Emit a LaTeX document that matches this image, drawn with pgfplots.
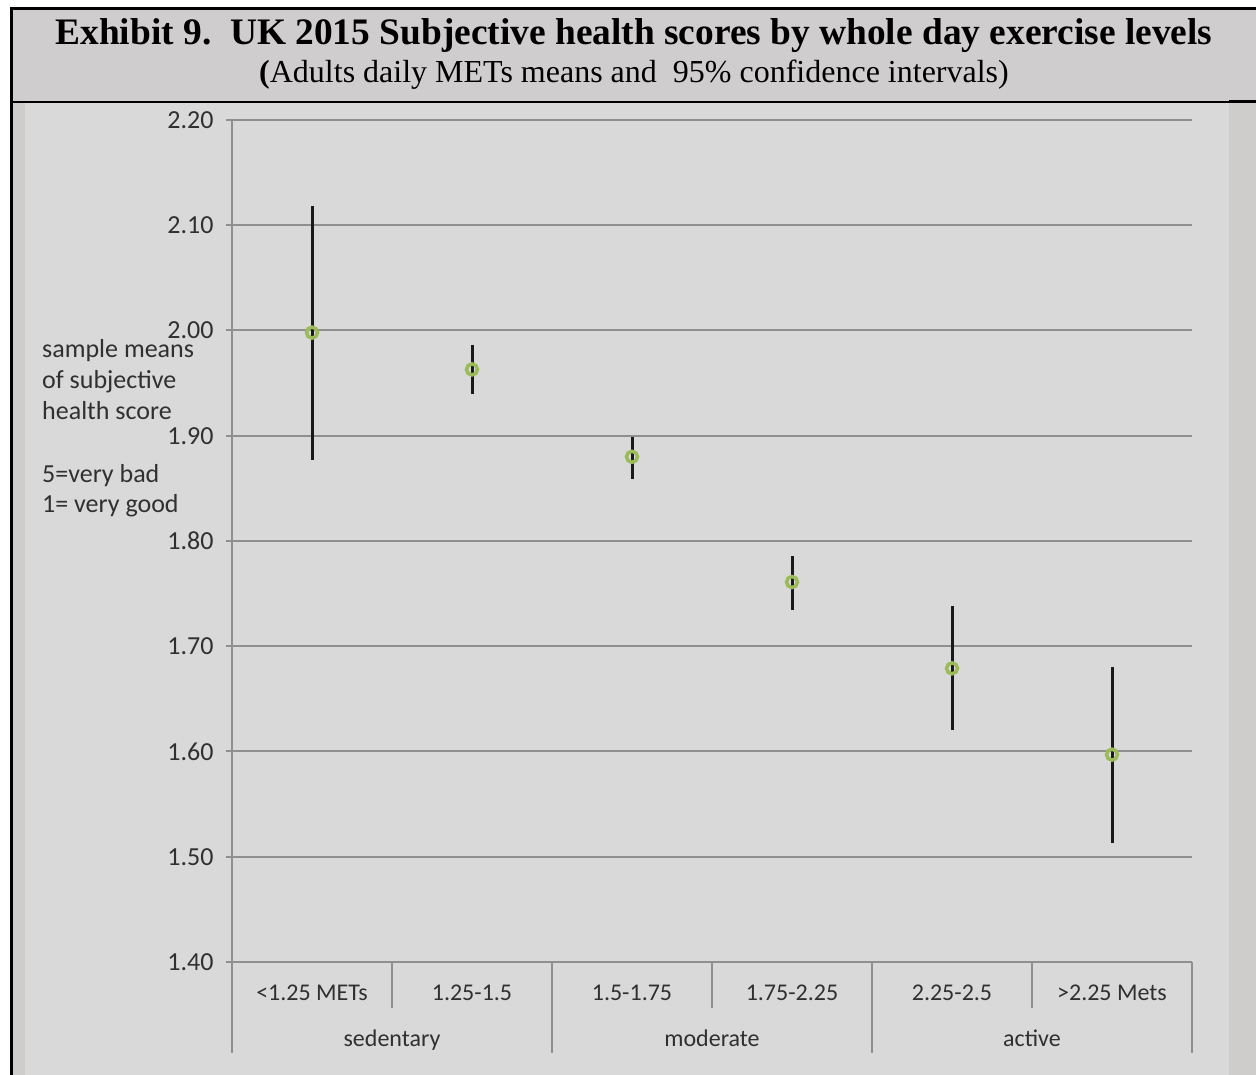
\documentclass[border=0pt]{standalone}
\usepackage{fontspec}
\setmainfont{Liberation Serif}
\newfontfamily\calibri{Carlito}
\usepackage{pgfplots}
\pgfplotsset{compat=1.18}
\usepackage{pgfplotstable}
\definecolor{titlegray}{HTML}{D0CDCE}
\definecolor{stripgray}{HTML}{CFCCCC}
\definecolor{plotbg}{HTML}{D9D9D9}
\definecolor{gridgray}{HTML}{8F8F8F}
\definecolor{mkgreen}{HTML}{9BBB59}
\definecolor{txt}{HTML}{303030}
\pgfplotstableread{
x y ep em
1 1.998 0.120 0.121
2 1.963 0.023 0.023
3 1.880 0.019 0.021
4 1.761 0.025 0.027
5 1.679 0.059 0.059
6 1.597 0.083 0.084
}\datatab
\begin{document}
\begin{tikzpicture}[x=1pt,y=1pt]
\useasboundingbox (0,0) rectangle (1256,1075);
\fill[white] (0,0) rectangle (1256,1075);
\fill[titlegray] (11,973) rectangle (1256,1066);
\fill[stripgray] (11,0) rectangle (1256,973);
\fill[plotbg] (25,0) rectangle (1229,973);
\draw[black,line width=3pt] (10,1066.5) -- (1256,1066.5);
\draw[black,line width=3pt] (11.5,0) -- (11.5,1068);
\draw[black,line width=2pt] (11,973) -- (1229,973);
\draw[black,line width=3pt] (1229,973) -- (1256,973);
\node[font=\fontsize{37.4}{44}\selectfont\bfseries] at (634,1039) {Exhibit 9.\ \ UK 2015 Subjective health scores by whole day exercise levels};
\node[font=\fontsize{32}{38}\selectfont] at (634,1000) {\textbf{(}Adults daily METs means and\ \ 95\% confidence intervals)};
\begin{scope}[font=\calibri\fontsize{26}{31}\selectfont, text=txt]
\node[anchor=base west,inner sep=0] at (42,717) {sample means};
\node[anchor=base west,inner sep=0] at (42,686) {of subjective};
\node[anchor=base west,inner sep=0] at (42,655) {health score};
\node[anchor=base west,inner sep=0] at (42,592) {5=very bad};
\node[anchor=base west,inner sep=0] at (42,562) {1= very good};
\end{scope}
\begin{axis}[
  at={(232pt,113pt)}, anchor=south west,
  width=960pt, height=842pt, scale only axis,
  xmin=0.5, xmax=6.5, ymin=1.4, ymax=2.2,
  axis x line=bottom, axis y line=left,
  axis line style={-, gridgray, line width=2pt},
  ytick={1.4,1.5,...,2.21},
  yticklabel style={/pgf/number format/fixed, /pgf/number format/fixed zerofill, /pgf/number format/precision=2, /pgf/number format/assume math mode=true, font=\calibri\fontsize{26}{30}\selectfont, text=txt, xshift=-9pt},
  ymajorgrids, grid style={gridgray, line width=2pt},
  tick align=outside,
  major tick length=6pt,
  ytick style={gridgray, line width=2pt},
  xtick={1,2,3,4,5,6},
  xticklabels={<1.25 METs,1.25-1.5,1.5-1.75,1.75-2.25,2.25-2.5,>2.25 Mets},
  xtick style={draw=none},
  xticklabel style={font=\calibri\fontsize{24}{28}\selectfont, text=txt, anchor=base, yshift=-33pt},
  clip=false,
]
\draw[gridgray, line width=2pt] (axis cs:1.5,1.4) -- ([yshift=-46pt]axis cs:1.5,1.4);
\draw[gridgray, line width=2pt] (axis cs:3.5,1.4) -- ([yshift=-46pt]axis cs:3.5,1.4);
\draw[gridgray, line width=2pt] (axis cs:5.5,1.4) -- ([yshift=-46pt]axis cs:5.5,1.4);
\draw[gridgray, line width=2pt] (axis cs:0.5,1.4) -- ([yshift=-91pt]axis cs:0.5,1.4);
\draw[gridgray, line width=2pt] (axis cs:2.5,1.4) -- ([yshift=-91pt]axis cs:2.5,1.4);
\draw[gridgray, line width=2pt] (axis cs:4.5,1.4) -- ([yshift=-91pt]axis cs:4.5,1.4);
\draw[gridgray, line width=2pt] (axis cs:6.5,1.4) -- ([yshift=-91pt]axis cs:6.5,1.4);
\addplot[only marks, mark=o, mark size=5.5pt, mark options={draw=mkgreen, line width=3.5pt},
  error bars/.cd, y dir=both, y explicit, error mark=none,
  error bar style={black!90, line width=3pt}]
  table[x=x, y=y, y error plus=ep, y error minus=em] {\datatab};
\node[font=\calibri\fontsize{24}{28}\selectfont, text=txt, anchor=base] at (axis cs:1.5,1.4) [yshift=-85pt] {sedentary};
\node[font=\calibri\fontsize{24}{28}\selectfont, text=txt, anchor=base] at (axis cs:3.5,1.4) [yshift=-85pt] {moderate};
\node[font=\calibri\fontsize{24}{28}\selectfont, text=txt, anchor=base] at (axis cs:5.5,1.4) [yshift=-85pt] {active};
\end{axis}
\end{tikzpicture}
\end{document}
